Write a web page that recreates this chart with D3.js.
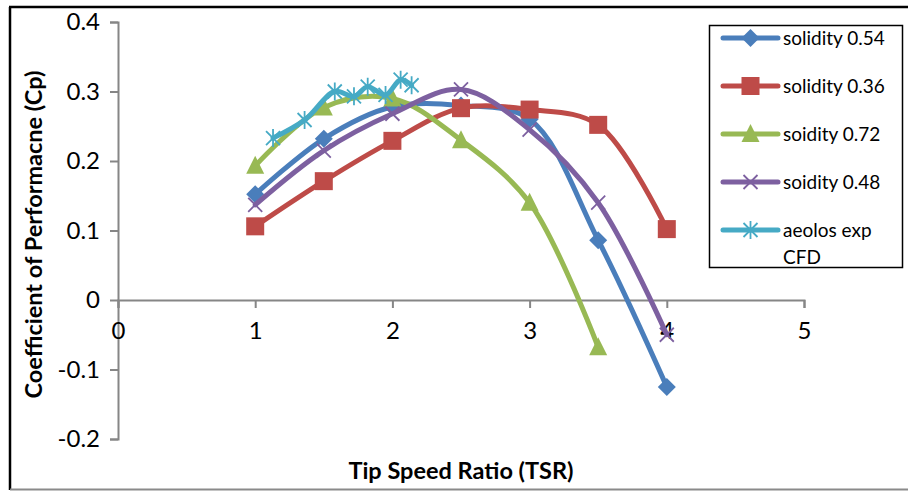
<!DOCTYPE html>
<html>
<head>
<meta charset="utf-8">
<script src="https://cdn.jsdelivr.net/npm/d3@7"></script>
<style>
  html, body { margin: 0; padding: 0; background: #fff; }
  svg { display: block; font-family: Lato, "Open Sans", sans-serif; }
</style>
</head>
<body>
<svg id="chart" width="908" height="492"></svg>
<script>
// Tip speed ratio vs. coefficient of performance
const xTicks = [0, 1, 2, 3, 4, 5];
const yTicks = [-0.2, -0.1, 0, 0.1, 0.2, 0.3, 0.4];
const yTickLabels = ["-0.2", "-0.1", "0", "0.1", "0.2", "0.3", "0.4"];

const seriesNames = ["solidity 0.54", "solidity 0.36", "soidity 0.72", "soidity 0.48", "aeolos exp CFD"];
const seriesLegendLines = [["solidity 0.54"], ["solidity 0.36"], ["soidity 0.72"], ["soidity 0.48"], ["aeolos exp", "CFD"]];

const tsrSolidity054 = [1, 1.5, 2, 2.5, 3, 3.5, 4];
const cpSolidity054 = [0.152, 0.232, 0.278, 0.280, 0.260, 0.086, -0.125];

const tsrSolidity036 = [1, 1.5, 2, 2.5, 3, 3.5, 4];
const cpSolidity036 = [0.106, 0.171, 0.229, 0.276, 0.274, 0.252, 0.102];

const tsrSolidity072 = [1, 1.5, 2, 2.5, 3, 3.5];
const cpSolidity072 = [0.193, 0.277, 0.290, 0.230, 0.140, -0.068];

const tsrSolidity048 = [1, 1.5, 2, 2.5, 3, 3.5, 4];
const cpSolidity048 = [0.137, 0.215, 0.268, 0.303, 0.245, 0.140, -0.050];

const tsrAeolos = [1.13, 1.36, 1.58, 1.72, 1.82, 1.95, 2.06, 2.14];
const cpAeolos = [0.233, 0.259, 0.300, 0.293, 0.307, 0.295, 0.317, 0.309];

const colors = ["#4a7ebb", "#be4b48", "#98b954", "#7d60a0", "#46aac5"];
const markers = ["diamond", "square", "triangle", "cross", "star"];

const xsList = [tsrSolidity054, tsrSolidity036, tsrSolidity072, tsrSolidity048, tsrAeolos];
const ysList = [cpSolidity054, cpSolidity036, cpSolidity072, cpSolidity048, cpAeolos];

const series = seriesNames.map((name, i) => ({
  name,
  legend: seriesLegendLines[i],
  color: colors[i],
  marker: markers[i],
  points: xsList[i].map((x, j) => ({ x, y: ysList[i][j] }))
}));

const svg = d3.select("#chart");

// outer frame
svg.append("line").attr("x1", 10).attr("y1", 7).attr("x2", 10).attr("y2", 490)
  .attr("stroke", "#000").attr("stroke-width", 2.5);
svg.append("line").attr("x1", 9).attr("y1", 7).attr("x2", 908).attr("y2", 7)
  .attr("stroke", "#000").attr("stroke-width", 2.5);
svg.append("line").attr("x1", 10).attr("y1", 489.5).attr("x2", 908).attr("y2", 489.5)
  .attr("stroke", "#8a8a8a").attr("stroke-width", 2);

const x = d3.scaleLinear().domain([0, 5]).range([118, 804]);
const y = d3.scaleLinear().domain([-0.2, 0.4]).range([439, 22]);

const axisColor = "#868686";

// y axis at x = 0
const yAxis = svg.append("g").attr("transform", `translate(${x(0)},0)`)
  .call(d3.axisLeft(y).tickValues(yTicks).tickSize(8).tickPadding(10)
    .tickFormat((d, i) => yTickLabels[i]));
yAxis.select(".domain").attr("stroke", axisColor).attr("stroke-width", 2);
yAxis.selectAll(".tick line").attr("stroke", axisColor).attr("stroke-width", 2);
yAxis.selectAll(".tick text").attr("fill", "#000").style("font-size", "24px")
  .style("font-family", "Lato, sans-serif");

// x axis at y = 0
const xAxis = svg.append("g").attr("transform", `translate(0,${y(0)})`)
  .call(d3.axisBottom(x).tickValues(xTicks).tickSize(8).tickPadding(14)
    .tickFormat(d3.format("d")));
xAxis.select(".domain").attr("stroke", axisColor).attr("stroke-width", 2);
xAxis.selectAll(".tick line").attr("stroke", axisColor).attr("stroke-width", 2);
xAxis.selectAll(".tick text").attr("fill", "#000").style("font-size", "24px")
  .style("font-family", "Lato, sans-serif");

// axis titles
svg.append("text").attr("x", (x(0) + x(5)) / 2).attr("y", 479)
  .attr("text-anchor", "middle").style("font-weight", "bold").style("font-size", "23.5px")
  .text("Tip Speed Ratio (TSR)");
svg.append("text")
  .attr("transform", `translate(42,${(y(0.4) + y(-0.2)) / 2 + 4}) rotate(-90)`)
  .attr("text-anchor", "middle").style("font-weight", "bold").style("font-size", "23.5px")
  .text("Coefficient of Performacne (Cp)");

// marker shapes
function drawMarker(g, type, cx, cy, color) {
  if (type === "diamond") {
    const s = 9;
    g.append("path").attr("d", `M${cx},${cy - s}L${cx + s},${cy}L${cx},${cy + s}L${cx - s},${cy}Z`)
      .attr("fill", color);
  } else if (type === "square") {
    const s = 9;
    g.append("rect").attr("x", cx - s).attr("y", cy - s).attr("width", 2 * s).attr("height", 2 * s)
      .attr("fill", color);
  } else if (type === "triangle") {
    const s = 9;
    g.append("path").attr("d", `M${cx},${cy - s - 1}L${cx + s},${cy + s - 1}L${cx - s},${cy + s - 1}Z`)
      .attr("fill", color);
  } else if (type === "cross") {
    const s = 7;
    g.append("path").attr("d", `M${cx - s},${cy - s}L${cx + s},${cy + s}M${cx - s},${cy + s}L${cx + s},${cy - s}`)
      .attr("stroke", color).attr("stroke-width", 1.8).attr("fill", "none");
  } else if (type === "star") {
    const s = 7;
    g.append("path").attr("d",
      `M${cx - s},${cy - s}L${cx + s},${cy + s}M${cx - s},${cy + s}L${cx + s},${cy - s}M${cx},${cy - s - 2}L${cx},${cy + s + 2}`)
      .attr("stroke", color).attr("stroke-width", 1.8).attr("fill", "none");
  }
}

const line = d3.line().x(d => x(d.x)).y(d => y(d.y)).curve(d3.curveCatmullRom.alpha(0.5));

const plot = svg.append("g");
series.forEach(s => {
  const g = plot.append("g");
  g.append("path").datum(s.points).attr("d", line)
    .attr("fill", "none").attr("stroke", s.color).attr("stroke-width", 5)
    .attr("stroke-linejoin", "round").attr("stroke-linecap", "round");
  s.points.forEach(p => drawMarker(g, s.marker, x(p.x), y(p.y), s.color));
});

// legend
const legend = svg.append("g");
legend.append("rect").attr("x", 709.5).attr("y", 25.5).attr("width", 193).attr("height", 242)
  .attr("fill", "#fff").attr("stroke", "#000").attr("stroke-width", 1.5);
const legendY = [38, 86, 134, 182, 230];
series.forEach((s, i) => {
  const ly = legendY[i];
  legend.append("line").attr("x1", 723).attr("x2", 778).attr("y1", ly).attr("y2", ly)
    .attr("stroke", s.color).attr("stroke-width", 5).attr("stroke-linecap", "round");
  drawMarker(legend, s.marker, 750.5, ly, s.color);
  s.legend.forEach((t, k) => {
    legend.append("text").attr("x", 783).attr("y", ly + 7 + k * 27)
      .style("font-size", "19px").attr("fill", "#000").text(t);
  });
});
</script>
</body>
</html>
